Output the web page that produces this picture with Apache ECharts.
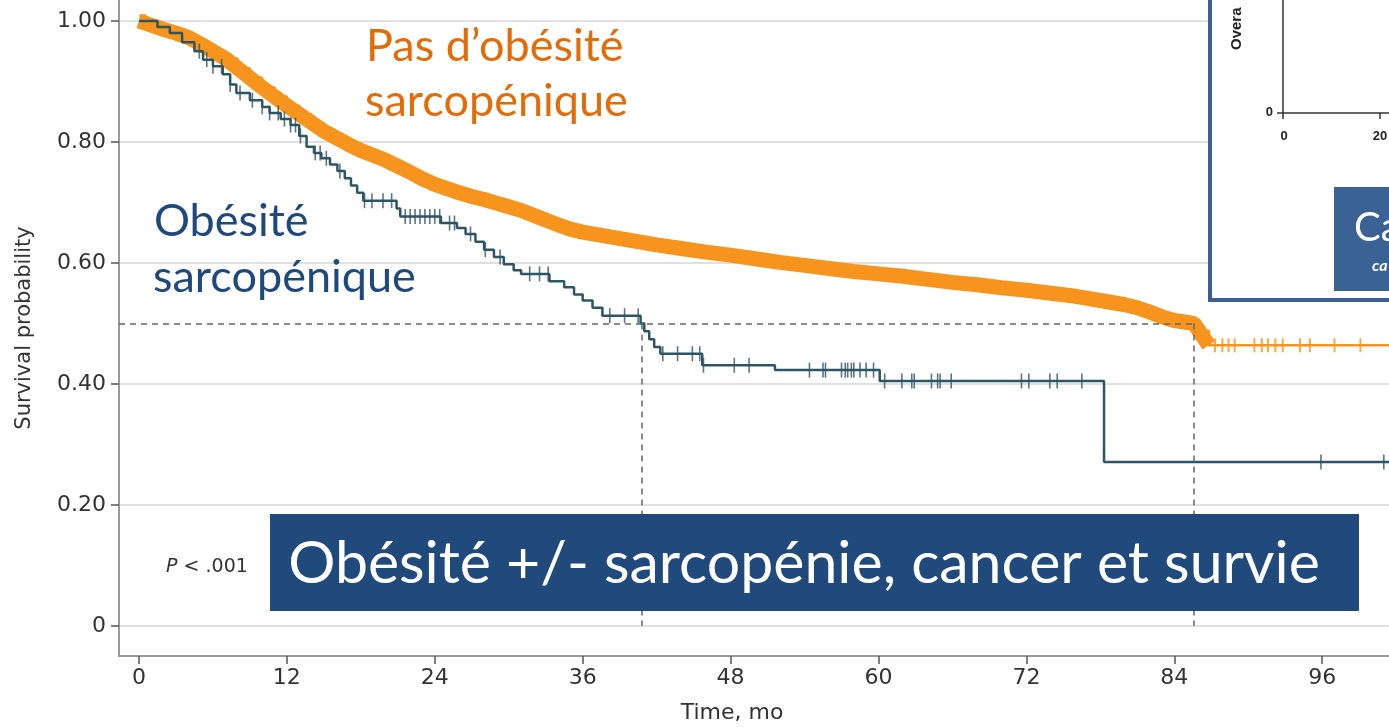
<!DOCTYPE html>
<html lang="fr">
<head>
<meta charset="UTF-8">
<title>Obésité sarcopénique et survie</title>
<script src="https://cdn.jsdelivr.net/npm/echarts@6/dist/echarts.min.js"></script>
<style>
    html, body { margin: 0; padding: 0; background: #fff; }
    #container { width: 1389px; height: 727px; }
</style>
</head>
<body>
<div id="container"></div>
<script>
// Kaplan-Meier : [mois, survie] après chaque événement
var orangeSteps = [
    [0, 1.0], [1, 0.993], [2, 0.986], [3, 0.98], [4, 0.973], [5, 0.962], [6, 0.95], [7, 0.938],
    [8, 0.922], [9, 0.906], [10, 0.89], [11, 0.875], [12, 0.86], [13, 0.846], [14, 0.832],
    [15, 0.818], [16, 0.807], [17, 0.796], [18, 0.786], [19, 0.778], [20, 0.77], [21, 0.76],
    [22, 0.75], [23, 0.739], [24, 0.73], [25, 0.723], [26, 0.716], [27, 0.71], [28, 0.705],
    [29, 0.699], [30, 0.693], [31, 0.687], [32, 0.679], [33, 0.671], [34, 0.663], [35, 0.656],
    [36, 0.651], [38, 0.644], [40, 0.637], [42, 0.63], [44, 0.624], [46, 0.618], [48, 0.613],
    [50, 0.607], [52, 0.601], [54, 0.596], [56, 0.591], [58, 0.586], [60, 0.582], [62, 0.578],
    [64, 0.573], [66, 0.568], [68, 0.564], [70, 0.559], [72, 0.555], [74, 0.55], [76, 0.545],
    [78, 0.538], [80, 0.531], [81, 0.526], [82, 0.519], [83, 0.511], [84, 0.505], [85.6, 0.5],
    [86, 0.488], [86.8, 0.464]
];
var orangeCensor = [0.1, 0.3, 0.5, 87.3, 87.9, 88.4, 88.9, 90.5, 91.1, 91.6, 92.2, 92.8, 94.2, 95.0, 97.0, 99.1];

var blueSteps = [
    [0, 1.0], [1.5, 0.99], [2.5, 0.98], [3.5, 0.965], [4.5, 0.95], [5.2, 0.936], [6, 0.925],
    [6.8, 0.912], [7.4, 0.895], [7.9, 0.881], [9, 0.869], [10, 0.858], [10.6, 0.848], [11.5, 0.838],
    [12.3, 0.828], [13, 0.81], [13.6, 0.792], [14.2, 0.782], [14.8, 0.773], [15.5, 0.763],
    [16.1, 0.752], [16.7, 0.74], [17.2, 0.728], [17.7, 0.716], [18.2, 0.703], [20.9, 0.69],
    [21.2, 0.677], [24.5, 0.666], [25.8, 0.658], [26.5, 0.648], [27.3, 0.635], [28, 0.622],
    [28.8, 0.61], [29.6, 0.598], [30.4, 0.588], [31, 0.582], [33.3, 0.57], [34.5, 0.56],
    [35.3, 0.548], [36, 0.538], [36.8, 0.526], [37.6, 0.513], [40.7, 0.5], [41.0, 0.487],
    [41.4, 0.474], [41.8, 0.461], [42.3, 0.45], [45.7, 0.431], [51.6, 0.423], [60.1, 0.405],
    [78.3, 0.271]
];
var blueCensor = [
    4.9, 5.5, 6.0, 6.7, 7.4, 8.2, 9.2, 10.0, 10.6, 11.3, 11.8, 12.3, 12.7, 13.1, 14.3, 14.7,
    15.2, 16.3, 18.3, 18.9, 19.8, 20.5, 21.6, 22.0, 22.4, 22.8, 23.2, 23.6, 24.0, 24.4, 25.2,
    25.6, 26.9, 28.1, 29.3, 31.7, 32.5, 33.2, 38.2, 39.4, 40.5, 42.5, 43.7, 44.9, 45.5, 45.8,
    48.3, 49.5, 54.4, 55.5, 55.7, 57.0, 57.3, 57.5, 57.8, 58.0, 58.5, 59.0, 59.6, 60.5, 61.9,
    62.7, 62.9, 64.3, 64.8, 65.0, 65.9, 71.6, 72.2, 73.9, 74.5, 76.5, 95.9, 101.0
];

var medians = [40.8, 85.6];
var followEnd = 101.42;
var timeTicks = [0, 12, 24, 36, 48, 60, 72, 84, 96];
var probTicks = [0, 0.2, 0.4, 0.6, 0.8, 1.0];

var xMin = -1.62;
var orangeColor = '#f7941d';
var blueColor = '#2e5563';
var axisFont = 'DejaVu Sans';

function survAt(steps, t) {
    var s = steps[0][1];
    for (var i = 0; i < steps.length; i++) {
        if (steps[i][0] <= t) s = steps[i][1];
    }
    return s;
}

function withEnd(steps) {
    return steps.concat([[followEnd, steps[steps.length - 1][1]]]);
}

function censorPoints(steps, times) {
    return times.map(function (t) { return [t, survAt(steps, t)]; });
}

var chart = echarts.init(document.getElementById('container'));

var option = {
    animation: false,
    grid: { left: 119, right: 0, top: 0, bottom: 71, outerBoundsMode: 'none', containLabel: false },
    xAxis: {
        type: 'value',
        min: xMin,
        max: followEnd,
        name: 'Time, mo',
        nameLocation: 'middle',
        nameGap: 46,
        nameTextStyle: { fontFamily: axisFont, fontSize: 22, color: '#333', padding: [0, 44, 0, 0] },
        axisLine: { onZero: false, lineStyle: { color: '#9a9a9a', width: 2 } },
        axisTick: { customValues: timeTicks, length: 8, lineStyle: { color: '#555', width: 1.5 } },
        axisLabel: { customValues: timeTicks, fontFamily: axisFont, fontSize: 22, color: '#333', margin: 11 },
        splitLine: { show: false }
    },
    yAxis: {
        type: 'value',
        min: -0.0496,
        max: 1.0347,
        name: 'Survival probability',
        nameLocation: 'middle',
        nameGap: 84,
        nameTextStyle: { fontFamily: axisFont, fontSize: 21, color: '#333' },
        axisLine: { show: true, onZero: false, lineStyle: { color: '#9a9a9a', width: 2 } },
        axisTick: { show: true, customValues: probTicks, length: 8, lineStyle: { color: '#555', width: 1.5 } },
        axisLabel: {
            customValues: probTicks,
            fontFamily: axisFont,
            fontSize: 22,
            color: '#333',
            margin: 13,
            formatter: function (v) { return v === 0 ? '0' : v.toFixed(2); }
        },
        splitLine: { show: true, lineStyle: { color: '#e0e0e0', width: 2 } }
    },
    series: [
        {
            name: 'bande',
            type: 'line',
            data: orangeSteps,
            showSymbol: false,
            silent: true,
            lineStyle: { color: orangeColor, width: 15, cap: 'butt' },
            z: 2
        },
        {
            name: 'Pas d’obésité sarcopénique',
            type: 'line',
            step: 'end',
            data: withEnd(orangeSteps),
            showSymbol: false,
            lineStyle: { color: orangeColor, width: 2.5 },
            z: 2
        },
        {
            type: 'scatter',
            data: censorPoints(orangeSteps, orangeCensor),
            symbol: 'rect',
            symbolSize: [2, 14],
            itemStyle: { color: orangeColor },
            z: 2
        },
        {
            name: 'Obésité sarcopénique',
            type: 'line',
            step: 'end',
            data: withEnd(blueSteps),
            showSymbol: false,
            lineStyle: { color: blueColor, width: 2.5 },
            z: 3,
            markLine: {
                silent: true,
                symbol: 'none',
                label: { show: false },
                lineStyle: { color: '#666', type: [6, 5], width: 1.5 },
                data: [
                    [{ coord: [xMin, 0.5] }, { coord: [medians[1], 0.5] }],
                    [{ coord: [medians[0], 0.5] }, { coord: [medians[0], 0] }],
                    [{ coord: [medians[1], 0.5] }, { coord: [medians[1], 0] }]
                ]
            }
        },
        {
            type: 'scatter',
            data: censorPoints(blueSteps, blueCensor),
            symbol: 'rect',
            symbolSize: [1.6, 15],
            itemStyle: { color: blueColor },
            z: 3
        }
    ],
    graphic: [
        { type: 'text', z: 50, style: { x: 366, y: 46, text: 'Pas d’obésité', font: '45px Lato', fill: '#e36c09', verticalAlign: 'middle' } },
        { type: 'text', z: 50, style: { x: 365, y: 101, text: 'sarcopénique', font: '45px Lato', fill: '#e36c09', verticalAlign: 'middle' } },
        { type: 'text', z: 50, style: { x: 154, y: 221, text: 'Obésité', font: '45px Lato', fill: '#1f497d', verticalAlign: 'middle' } },
        { type: 'text', z: 50, style: { x: 153, y: 277, text: 'sarcopénique', font: '45px Lato', fill: '#1f497d', verticalAlign: 'middle' } },
        {
            type: 'text', z: 50,
            style: {
                x: 207, y: 567, text: '{i|P} < .001', align: 'center', verticalAlign: 'middle',
                font: '19px DejaVu Sans', fill: '#333',
                rich: { i: { fontStyle: 'italic', fontSize: 19, fontFamily: 'DejaVu Sans', fill: '#333' } }
            }
        },
        { type: 'rect', z: 50, shape: { x: 270, y: 514, width: 1089, height: 97 }, style: { fill: '#214a7c' } },
        {
            type: 'text', z: 51,
            style: { x: 804, y: 564, text: 'Obésité +/- sarcopénie, cancer et survie', align: 'center', verticalAlign: 'middle', font: '59px Lato', fill: '#fff' }
        },
        // encart
        { type: 'rect', z: 50, shape: { x: 1210, y: -10, width: 200, height: 310 }, style: { fill: '#fff', stroke: '#3c5f8f', lineWidth: 4 } },
        { type: 'line', z: 51, shape: { x1: 1283, y1: -5, x2: 1283, y2: 113 }, style: { stroke: '#333', lineWidth: 1.5 } },
        { type: 'line', z: 51, shape: { x1: 1277, y1: 113, x2: 1395, y2: 113 }, style: { stroke: '#333', lineWidth: 1.5 } },
        { type: 'line', z: 51, shape: { x1: 1283, y1: 113, x2: 1283, y2: 119 }, style: { stroke: '#333', lineWidth: 1.5 } },
        { type: 'line', z: 51, shape: { x1: 1380, y1: 113, x2: 1380, y2: 119 }, style: { stroke: '#333', lineWidth: 1.5 } },
        { type: 'text', z: 51, style: { x: 1273, y: 112, text: '0', align: 'right', verticalAlign: 'middle', font: 'bold 13px Liberation Sans', fill: '#222' } },
        { type: 'text', z: 51, style: { x: 1284, y: 136, text: '0', align: 'center', verticalAlign: 'middle', font: 'bold 13px Liberation Sans', fill: '#222' } },
        { type: 'text', z: 51, style: { x: 1380, y: 136, text: '20', align: 'center', verticalAlign: 'middle', font: 'bold 13px Liberation Sans', fill: '#222' } },
        { type: 'text', z: 51, x: 1237, y: 50, rotation: Math.PI / 2, style: { x: 0, y: 0, text: 'Overa', align: 'left', verticalAlign: 'middle', font: 'bold 15px Liberation Sans', fill: '#222' } },
        { type: 'rect', z: 51, shape: { x: 1334, y: 187, width: 70, height: 104 }, style: { fill: '#3a6294' } },
        { type: 'text', z: 52, style: { x: 1354, y: 228, text: 'Ca', verticalAlign: 'middle', font: '40px Lato', fill: '#fff' } },
        { type: 'text', z: 52, style: { x: 1372, y: 266, text: 'ca', verticalAlign: 'middle', font: 'italic bold 16px Lato', fill: '#fff' } }
    ]
};

chart.setOption(option);
</script>
</body>
</html>
